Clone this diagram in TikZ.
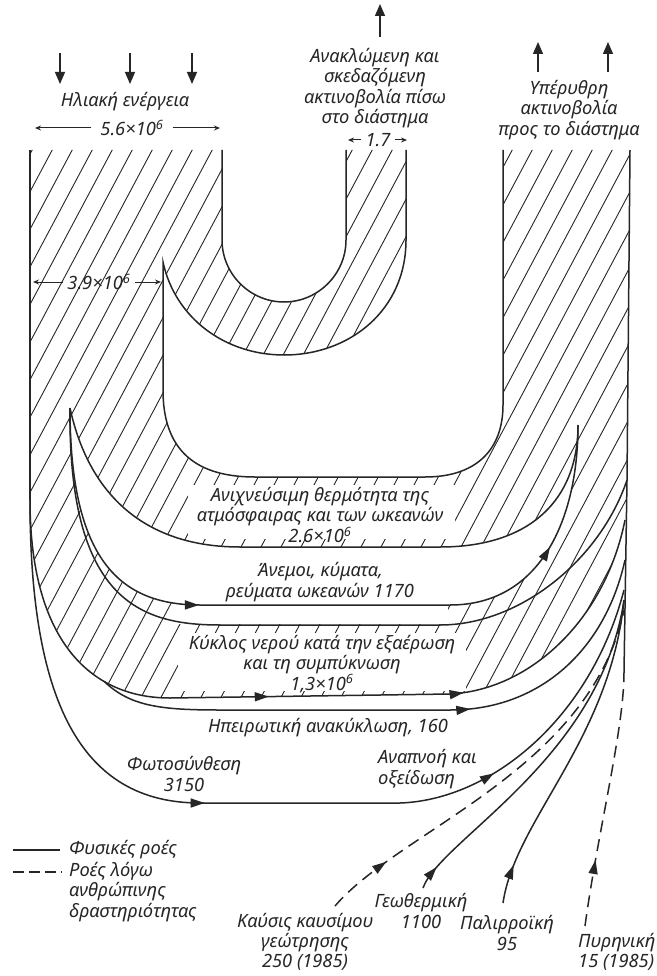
\documentclass[tikz,border=0pt]{standalone}
\usepackage{fontspec}
\setmainfont{Noto Sans}
\usetikzlibrary{arrows.meta,decorations.markings}
\newcommand\tensix{10\textsuperscript{6}}
\newcommand\lblsize{\fontsize{18.3}{20.3}\selectfont}

\begin{document}
\begin{tikzpicture}[x=1pt,y=-1pt,
  ink/.style={draw=black!85,line width=1.5pt},
  hatchline/.style={draw=black!85,line width=0.9pt},
  human/.style={dash pattern=on 12pt off 7pt},
  arr/.style={postaction={decorate,decoration={markings,
      mark=at position #1 with {\arrow{Triangle[length=14pt,width=9pt]}}}}},
  headup/.style={draw=black!85,line width=1.3pt,-{Triangle[length=12pt,width=10pt]}},
  dim/.style={draw=black!85,line width=1pt,-{Stealth[length=6pt,width=5pt]}},
  lbl/.style={font=\lblsize\itshape,text=black!85,align=center,inner sep=0pt}]

\fill[white] (0,0) rectangle (656,976);
\useasboundingbox (0,0) rectangle (656,976);

% outline of the hatched energy stream
\def\streampath{(30,150) -- (222,150) -- (222,240)
  .. controls (222,274) and (250,302) .. (284,302)
  .. controls (318,302) and (346,274) .. (346,240)
  -- (346,150) -- (406,150) -- (406,240)
  .. controls (406,310) and (350,355) .. (284,355)
  .. controls (225,355) and (175,318) .. (163,262)
  -- (163,390)
  .. controls (163,445) and (190,477) .. (255,477)
  -- (425,477) .. controls (478,477) and (503,448) .. (503,405)
  -- (503,150) -- (630,150) -- (627,480) -- (625,520)
  .. controls (605,620) and (530,690) .. (450,694)
  -- (170,698) .. controls (90,698) and (30,640) .. (30,500) -- cycle}

\begin{scope}
  \clip \streampath;
  \foreach \k in {-30,...,36} \draw[hatchline] (\k*20,1000) -- ++(532,-1000);
\end{scope}

% unhatched parts inside the stream
\fill[white] (70,408) .. controls (90,500) and (150,547) .. (240,547)
  -- (440,547) .. controls (530,547) and (578,500) .. (578,425)
  .. controls (578,520) and (540,605) .. (450,605)
  -- (200,605) .. controls (120,605) and (70,560) .. (70,408) -- cycle;
\fill[white] (172,606) rectangle (448,624);
\fill[white] (188,485) rectangle (455,539);
\fill[white] (178,633) rectangle (466,691);

% stream boundaries
\draw[ink] (30,150) -- (30,500);
\draw[ink] (222,150) -- (222,240)
  .. controls (222,274) and (250,302) .. (284,302)
  .. controls (318,302) and (346,274) .. (346,240) -- (346,150);
\draw[ink] (406,150) -- (406,240)
  .. controls (406,310) and (350,355) .. (284,355)
  .. controls (225,355) and (175,318) .. (163,262)
  -- (163,390)
  .. controls (163,445) and (190,477) .. (255,477)
  -- (425,477) .. controls (478,477) and (503,448) .. (503,405) -- (503,150);
\draw[ink] (630,150) -- (627,480) -- (624,672);

% heat / winds / water cycle
\coordinate (tipL) at (70,408);
\coordinate (tipR) at (578,425);
\draw[ink] (tipL) .. controls (90,500) and (150,547) .. (240,547)
  -- (440,547) .. controls (530,547) and (578,500) .. (tipR);
\draw[ink,arr=0.35,arr=0.835] (tipL) .. controls (70,560) and (120,605) .. (200,605)
  -- (450,605) .. controls (540,605) and (578,520) .. (tipR);
\draw[ink] (tipL) .. controls (68,600) and (140,625) .. (220,625)
  -- (440,625) .. controls (520,625) and (600,560) .. (627,480);
\draw[ink,arr=0.455,arr=0.693] (30,500) .. controls (30,640) and (90,698) .. (170,698)
  -- (450,694) .. controls (530,690) and (605,620) .. (625,520);
\draw[ink,arr=0.618] (104.5,681.7) .. controls (130,706) and (160,710) .. (220,710)
  -- (450,710) .. controls (540,710) and (605,650) .. (625,560);
\draw[ink,arr=0.43,arr=0.75] (30,500) .. controls (30,700) and (80,803) .. (200,803)
  -- (400,803) .. controls (490,800) and (590,720) .. (624,590);

% inflows from below
\coordinate (fuelS) at (335,906);
\coordinate (geoS) at (423,888);
\coordinate (tideS) at (503,903);
\coordinate (nucS) at (585,926);
\draw[ink,human,arr=0.16] (fuelS) .. controls (400,830) and (590,770) .. (624,610);
\draw[ink,arr=0.07] (geoS) .. controls (440,840) and (600,760) .. (624,600);
\draw[ink,arr=0.12] (tideS) .. controls (515,820) and (610,740) .. (624,600);
\draw[ink,human,arr=0.26] (nucS) .. controls (598,830) and (624,730) .. (624,672);

% incoming sunlight
\foreach \x [count=\i] in {60,130,192} {
  \coordinate (sunT\i) at (\x,53);
  \coordinate (sunB\i) at (\x,84);
  \draw[headup] (sunT\i) -- (sunB\i);
}
\node[lbl] (sun) at (125,102) {Ηλιακή ενέργεια};
\node[lbl,inner xsep=9pt] (sunw) at (132,128) {5.6×\tensix};
\coordinate (sunwL) at (35,128);
\coordinate (sunwR) at (220,128);
\draw[dim] (sunw.west) -- (sunwL);
\draw[dim] (sunw.east) -- (sunwR);

% reflected part
\coordinate (reflA) at (380,37);
\coordinate (reflB) at (380,4);
\draw[headup] (reflA) -- (reflB);
\node[lbl] (refl) at (375,88) {Ανακλώμενη και\\σκεδαζόμενη\\ακτινοβολία πίσω\\στο διάστημα};
\node[lbl,inner xsep=4pt] (reflw) at (378,140) {1.7};
\coordinate (reflwL) at (348,140);
\coordinate (reflwR) at (407,140);
\draw[dim] (reflw.west) -- (reflwL);
\draw[dim] (reflw.east) -- (reflwR);

% infrared out
\foreach \x [count=\i] in {538,608} {
  \coordinate (irB\i) at (\x,72);
  \coordinate (irT\i) at (\x,42);
  \draw[headup] (irB\i) -- (irT\i);
}
\node[lbl] (ir) at (569,110) {Υπέρυθρη\\ακτινοβολία\\προς το διάστημα};

% direct share
\node[lbl,inner xsep=4pt] (direct) at (99,282) {3.9×\tensix};
\coordinate (directL) at (33,282);
\coordinate (directR) at (161,282);
\draw[dim] (direct.west) -- (directL);
\draw[dim] (direct.east) -- (directR);

% band labels
\node[lbl] (heat) at (320,515) {Ανιχνεύσιμη θερμότητα της\\ατμόσφαιρας και των ωκεανών\\2.6×\tensix};
\node[lbl] (wind) at (320,582) {Άνεμοι, κύματα,\\ρεύματα ωκεανών 1170};
\node[lbl] (water) at (322,664) {Κύκλος νερού κατά την εξαέρωση\\και τη συμπύκνωση\\1,3×\tensix};
\node[lbl] (cont) at (328,728) {Ηπειρωτική ανακύκλωση, 160};
\node[lbl] (photo) at (184,774) {Φωτοσύνθεση\\3150};
\node[lbl,anchor=west,align=left] (resp) at (378,769) {Αναπνοή και\\οξείδωση};

% legend
\coordinate (lgA) at (13,850);
\coordinate (lgB) at (60,850);
\draw[ink,line width=1.3pt] (lgA) -- (lgB);
\node[lbl,anchor=west] (lgnat) at (69,850) {Φυσικές ροές};
\coordinate (lgC) at (13,872);
\coordinate (lgD) at (62,872);
\draw[ink,line width=1.3pt,dash pattern=on 11pt off 5pt] (lgC) -- (lgD);
\node[lbl,anchor=west,align=left] (lghum) at (69,892) {Ροές λόγω\\ανθρώπινης\\δραστηριότητας};

% sources below
\node[lbl] (fuel) at (305,942) {Καύσις καυσίμου\\γεώτρησης\\250 (1985)};
\node[lbl] (geo) at (421,911) {Γεωθερμική\\1100};
\node[lbl] (tide) at (507,933) {Παλιρροϊκή\\95};
\node[lbl,anchor=west,align=left] (nuc) at (578,952) {Πυρηνική\\15 (1985)};
\end{tikzpicture}
\end{document}
